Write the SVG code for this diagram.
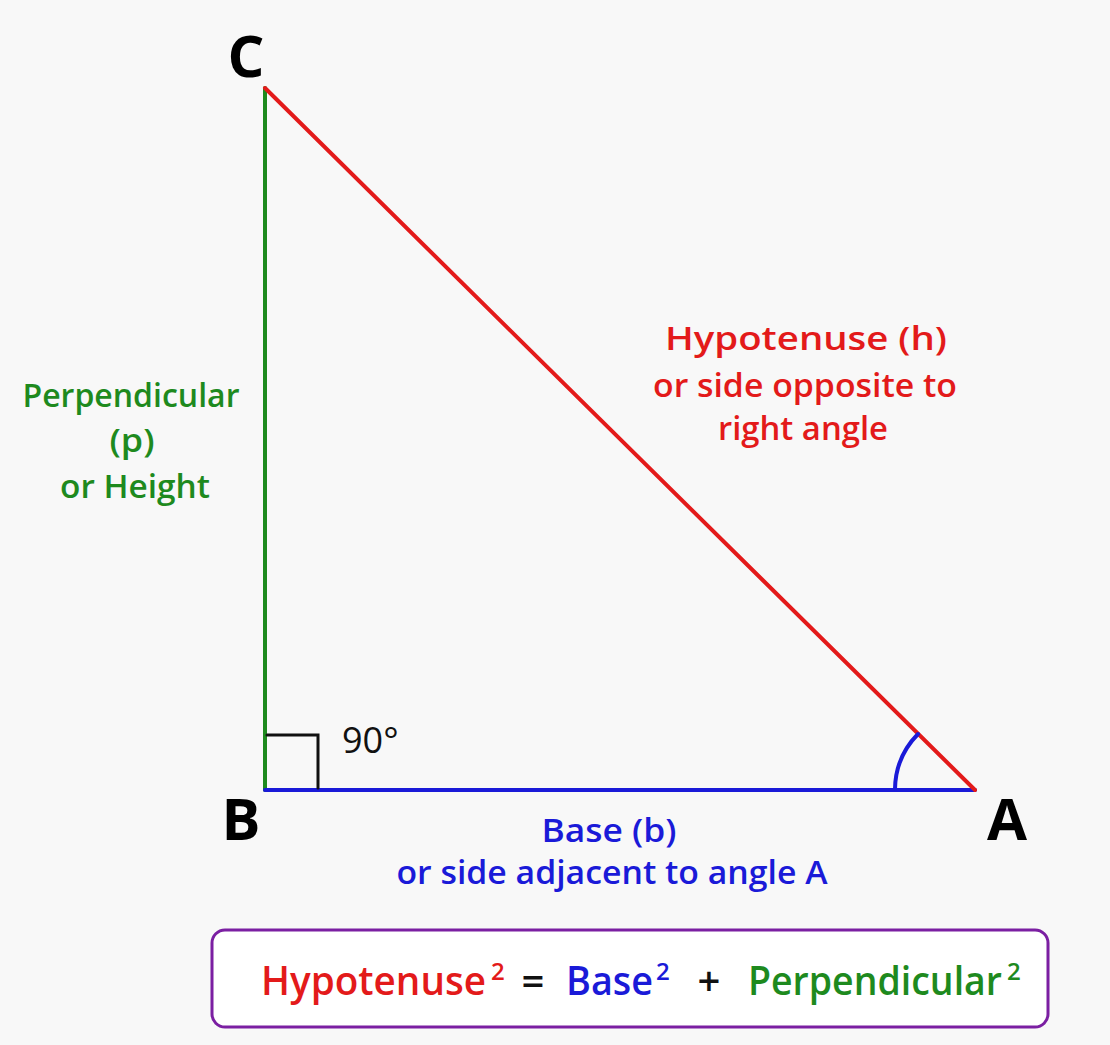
<svg xmlns="http://www.w3.org/2000/svg" width="1110" height="1045" viewBox="0 0 1110 1045">
<style>
text{font-family:"Open Sans",Lato,"Liberation Sans",sans-serif}
.v{font-size:58px;font-weight:bold;fill:#000;text-anchor:middle}
.lbl{font-size:33px;font-weight:600;text-anchor:middle}
.g{fill:#1e8a1e}.r{fill:#e31a1a}.b{fill:#1a1ad8}.k{fill:#111}
.f{font-size:40px;font-weight:600}
.s{font-size:24px;font-weight:600}
</style>
<rect width="1110" height="1045" fill="#f8f8f8"/>
<g id="connectors" stroke-linecap="round" fill="none">
<line id="perp" x1="265" y1="88" x2="265" y2="790" stroke="#1e8a1e" stroke-width="4"/>
<line id="base" x1="265" y1="790" x2="975" y2="790" stroke="#1a1ad8" stroke-width="4"/>
<line id="hyp" x1="265" y1="88" x2="975" y2="790" stroke="#e31a1a" stroke-width="4"/>
<path id="right" d="M267 735 H318 V788" stroke="#111" stroke-width="3"/>
<path id="arc" d="M895 789 A80 80 0 0 1 918 734" stroke="#1a1ad8" stroke-width="4"/>
</g>
<g id="C"><text class="v" x="246" y="77">C</text></g>
<g id="B"><text class="v" x="241" y="840">B</text></g>
<g id="A"><text class="v" x="1007" y="840">A</text></g>
<g id="angle90"><text x="342" y="753" font-size="36" fill="#111">90°</text></g>
<g id="perpLabel">
<text class="lbl g" x="131" y="407" textLength="217" lengthAdjust="spacingAndGlyphs">Perpendicular</text>
<text class="lbl g" x="132" y="452" textLength="45" lengthAdjust="spacingAndGlyphs">(p)</text>
<text class="lbl g" x="135" y="498" textLength="150" lengthAdjust="spacingAndGlyphs">or Height</text>
</g>
<g id="hypLabel">
<text class="lbl r" x="806" y="350" textLength="282" lengthAdjust="spacingAndGlyphs">Hypotenuse (h)</text>
<text class="lbl r" x="805" y="397" textLength="304" lengthAdjust="spacingAndGlyphs">or side opposite to</text>
<text class="lbl r" x="803" y="440" textLength="170" lengthAdjust="spacingAndGlyphs">right angle</text>
</g>
<g id="baseLabel">
<text class="lbl b" x="609" y="842" textLength="135" lengthAdjust="spacingAndGlyphs">Base (b)</text>
<text class="lbl b" x="612" y="884" textLength="431" lengthAdjust="spacingAndGlyphs">or side adjacent to angle A</text>
</g>
<g id="formula">
<rect x="212" y="930" width="836" height="97" rx="13" fill="#fff" stroke="#7b1fa2" stroke-width="3"/>
<text class="f r" x="261" y="995" font-size="36" textLength="225" lengthAdjust="spacingAndGlyphs">Hypotenuse</text>
<text class="s r" x="491" y="980">2</text>
<text class="f k" x="533" y="995" text-anchor="middle">=</text>
<text class="f b" x="566" y="995" font-size="36" textLength="87" lengthAdjust="spacingAndGlyphs">Base</text>
<text class="s b" x="656" y="980">2</text>
<text class="f k" x="709" y="995" text-anchor="middle">+</text>
<text class="f g" x="748" y="995" font-size="34" textLength="254" lengthAdjust="spacingAndGlyphs">Perpendicular</text>
<text class="s g" x="1007" y="980">2</text>
</g>
</svg>
